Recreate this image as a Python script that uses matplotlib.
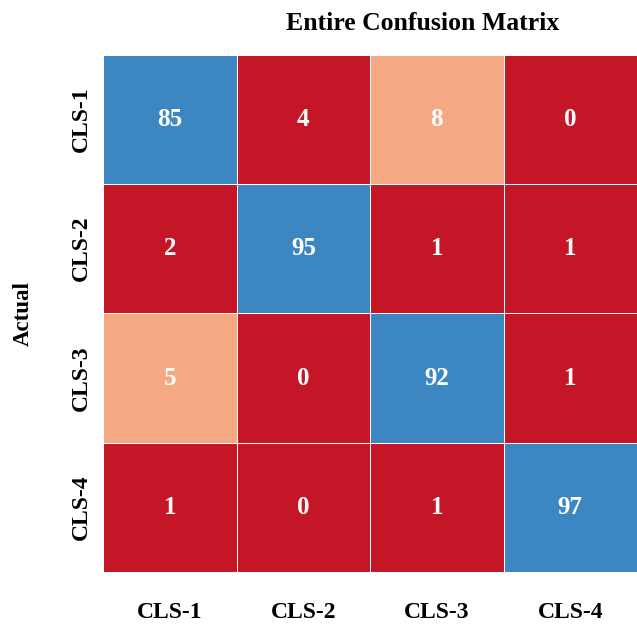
import matplotlib
matplotlib.use("Agg")
import matplotlib.pyplot as plt
import numpy as np
from matplotlib.colors import ListedColormap, BoundaryNorm

labels = ["CLS-1", "CLS-2", "CLS-3", "CLS-4"]
matrix = np.array([
    [85, 4, 8, 0],
    [2, 95, 1, 1],
    [5, 0, 92, 1],
    [1, 0, 1, 97],
])

plt.rcParams['font.family'] = ['Liberation Serif', 'DejaVu Serif']
plt.rcParams['font.weight'] = 'bold'

cmap = ListedColormap(['#C41626', '#F4A982', '#F7F7F7', '#3C87C2'])
norm = BoundaryNorm([0, 5, 10, 50, 101], cmap.N)

fig = plt.figure(figsize=(6.37, 6.24), dpi=100)
ax = fig.add_axes([0.162, 0.0833, 0.838, 0.829])
ax.pcolormesh(matrix, cmap=cmap, norm=norm, edgecolors='white', linewidth=0.7)
ax.set_xlim(0, 4)
ax.set_ylim(4, 0)
for i in range(4):
    for j in range(4):
        ax.text(j + 0.5, i + 0.5, str(matrix[i, j]), ha='center', va='center',
                color='white', fontsize=18, fontweight='bold')
ax.set_xticks(np.arange(4) + 0.5)
ax.set_yticks(np.arange(4) + 0.5)
ax.set_xticklabels(labels, fontsize=17, fontweight='bold')
ax.set_yticklabels(labels, fontsize=17, fontweight='bold', rotation=90, va='center')
ax.tick_params(axis='x', length=0, pad=21.5)
ax.tick_params(axis='y', length=0, pad=8)
for s in ax.spines.values():
    s.set_visible(False)
ax.set_title("Entire Confusion Matrix", fontsize=18.5, fontweight='bold', pad=18, x=0.598)
ax.set_ylabel("Actual", fontsize=16.5, fontweight='bold', labelpad=27)
fig.savefig("out.png", dpi=100)
